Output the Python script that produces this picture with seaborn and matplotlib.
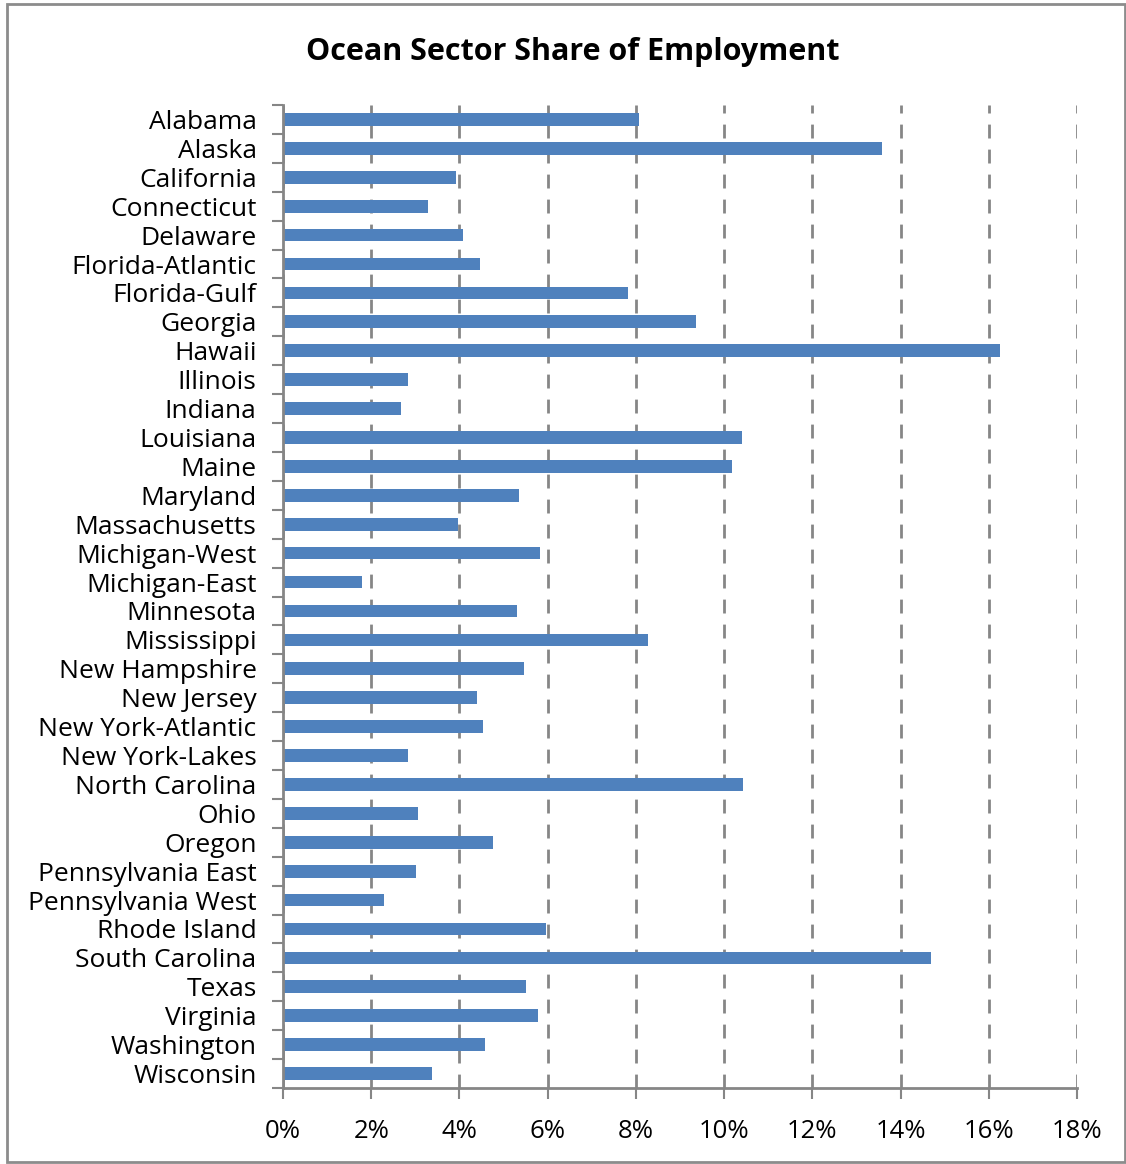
import matplotlib
matplotlib.use("Agg")
import matplotlib.pyplot as plt
import matplotlib.patches as mpatches
from matplotlib.ticker import FixedLocator, PercentFormatter
import seaborn as sns
import pandas as pd
import numpy as np

states = ["Alabama", "Alaska", "California", "Connecticut", "Delaware", "Florida-Atlantic",
          "Florida-Gulf", "Georgia", "Hawaii", "Illinois", "Indiana", "Louisiana", "Maine",
          "Maryland", "Massachusetts", "Michigan-West", "Michigan-East", "Minnesota",
          "Mississippi", "New Hampshire", "New Jersey", "New York-Atlantic", "New York-Lakes",
          "North Carolina", "Ohio", "Oregon", "Pennsylvania East", "Pennsylvania West",
          "Rhode Island", "South Carolina", "Texas", "Virginia", "Washington", "Wisconsin"]
share = [8.07, 13.58, 3.92, 3.29, 4.08, 4.47, 7.82, 9.36, 16.25, 2.83, 2.68, 10.41, 10.18,
         5.35, 3.97, 5.83, 1.79, 5.30, 8.27, 5.46, 4.40, 4.53, 2.83, 10.43, 3.06, 4.76,
         3.02, 2.29, 5.96, 14.69, 5.51, 5.78, 4.58, 3.38]
xticks = [0, 2, 4, 6, 8, 10, 12, 14, 16, 18]

df = pd.DataFrame({"state": states, "share": share})

sns.set_theme(style="white")
plt.rcParams["font.family"] = ["Open Sans", "DejaVu Sans"]

fig = plt.figure(figsize=(11.26, 11.64), dpi=100)
ax = fig.add_axes([283/1126, 1 - 1088/1164, (1077-283)/1126, (1088-105)/1164])

sns.barplot(data=df, x="share", y="state", orient="h", color="#4F81BD",
            width=0.44, saturation=1, ax=ax, edgecolor="none")

ax.set_xlim(0, 18)
ax.set_ylim(len(states) - 0.5, -0.5)
ax.xaxis.set_major_locator(FixedLocator(xticks))
ax.xaxis.set_major_formatter(PercentFormatter(decimals=0))
ax.grid(axis="x", color="#868686", linestyle=(0, (5, 4)), linewidth=2)
ax.set_axisbelow(True)
ax.set_xlabel("")
ax.set_ylabel("")

for s in ["top", "right"]:
    ax.spines[s].set_visible(False)
for s in ["left", "bottom"]:
    ax.spines[s].set_color("#868686")
    ax.spines[s].set_linewidth(2)

ax.tick_params(axis="x", which="major", direction="out", length=8, width=1.5,
               color="#868686", labelsize=18.5, pad=14, labelcolor="black", bottom=True)
ax.tick_params(axis="y", which="major", length=0, labelsize=19, pad=19, labelcolor="black")
ax.yaxis.set_minor_locator(FixedLocator(np.arange(-0.5, len(states), 1.0)))
ax.tick_params(axis="y", which="minor", direction="out", length=8, width=1.5,
               color="#868686", left=True)

fig.text(573/1126, 1 - 52/1164, "Ocean Sector Share of Employment", ha="center",
         va="center", fontsize=22, fontweight="bold", color="black")

fig.patches.append(mpatches.Rectangle((7/1126, 0.002), 1 - 8/1126, 1 - 6/1164, transform=fig.transFigure,
                                      fill=False, edgecolor="#8c8c8c", linewidth=2))

fig.savefig("out.png", dpi=100, facecolor="white")
